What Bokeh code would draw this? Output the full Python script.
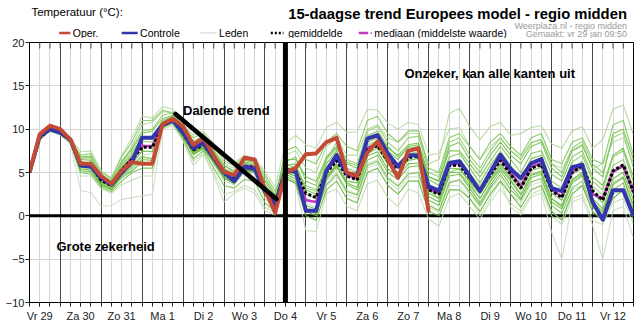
from bokeh.plotting import figure
from bokeh.layouts import column
from bokeh.models import (Range1d, FixedTicker, Grid, Span, Label, Arrow,
                          ColumnDataSource)
from bokeh.core.properties import value
from bokeh.embed import file_html
from bokeh.resources import INLINE

# ---------------- data ----------------
day_labels = ["Vr 29", "Za 30", "Zo 31", "Ma 1", "Di 2", "Wo 3", "Do 4", "Vr 5",
              "Za 6", "Zo 7", "Ma 8", "Di 9", "Wo 10", "Do 11", "Vr 12"]
# hours since vr 29 jan 00:00, 6-hourly steps
hours = list(range(6, 361, 6))

oper = [5.0, 9.4, 10.4, 10.0, 8.8, 6.0, 6.0, 4.6, 3.7, 5.2,
        6.2, 6.0, 6.0, 10.6, 11.2, 10.3, 8.2, 9.0, 6.9, 5.1,
        4.7, 6.7, 6.5, 3.0, 0.35, 5.0, 5.5, 7.1, 7.2, 8.5,
        9.0, 5.0, 4.6, 7.3, 8.6, 6.5, 4.4, 7.5, 7.8, 0.4]

controle = [5.0, 9.2, 10.0, 9.6, 8.8, 5.8, 5.7, 4.4, 3.6, 5.0,
            6.2, 9.0, 9.0, 10.5, 11.0, 9.6, 7.8, 8.4, 6.7, 5.0,
            4.0, 5.6, 5.4, 2.8, 1.2, 5.1, 5.2, 0.6, 0.6, 5.2,
            7.0, 4.9, 4.7, 8.9, 9.3, 7.2, 5.7, 7.0, 7.0, 3.4,
            2.9, 6.1, 6.3, 4.6, 2.85, 5.0, 7.05, 5.4, 4.35, 6.05,
            6.55, 3.2, 2.85, 5.6, 5.9, 1.6, -0.45, 2.95, 2.95, 0.0]

gemiddelde = [5.0, 9.0, 10.0, 9.6, 8.7, 5.9, 5.8, 4.1, 3.5, 5.3,
              6.5, 7.9, 7.9, 10.4, 11.0, 9.5, 7.6, 8.2, 6.7, 5.0,
              4.2, 5.7, 5.6, 3.0, 1.4, 5.4, 5.0, 2.6, 2.1, 5.0,
              6.35, 4.6, 4.15, 7.65, 8.1, 6.3, 5.5, 6.7, 6.9, 3.0,
              2.5, 5.8, 5.85, 4.4, 2.85, 4.7, 6.4, 4.8, 3.2, 5.5,
              5.9, 2.95, 2.1, 5.0, 5.8, 2.9, 1.8, 5.2, 5.9, 2.75]

mediaan = [5.0, 9.1, 10.1, 9.7, 8.8, 5.9, 5.8, 4.2, 3.6, 5.3,
           6.6, 8.1, 8.0, 10.5, 11.1, 9.6, 7.7, 8.3, 6.8, 5.0,
           4.1, 5.8, 5.6, 2.9, 1.3, 5.4, 5.1, 1.8, 1.6, 5.1,
           6.6, 4.7, 4.3, 7.8, 8.3, 6.5, 5.6, 6.9, 7.0, 3.1,
           2.6, 5.9, 6.0, 4.5, 2.9, 4.8, 6.6, 5.0, 3.4, 5.6,
           6.1, 3.0, 2.2, 5.1, 5.8, 2.5, 2.0, 5.1, 5.8, 2.7]

lid_a = [5.0, 9.5, 10.4, 10.0, 8.9, 7.4, 7.5, 5.2, 4.4, 7.0,
         9.0, 11.5, 11.3, 12.6, 12.3, 10.6, 9.3, 9.8, 8.3, 6.6,
         6.1, 7.0, 6.6, 5.2, 3.3, 8.3, 9.3, 8.2, 7.8, 10.2,
         10.8, 9.6, 9.7, 12.3, 12.2, 10.7, 10.0, 10.8, 10.5, 7.0,
         7.2, 10.0, 10.2, 8.0, 6.5, 8.0, 9.0, 7.5, 6.8, 8.5,
         8.8, 6.0, 5.5, 7.5, 8.0, 5.5, 6.0, 8.5, 9.0, 6.0]
lid_b = [5.0, 9.2, 10.2, 9.8, 8.8, 6.5, 6.6, 4.8, 4.0, 6.2,
         8.0, 10.5, 10.8, 12.0, 12.0, 10.2, 8.5, 9.0, 7.5, 6.0,
         5.5, 6.8, 6.4, 4.5, 2.5, 7.0, 7.5, 5.5, 5.0, 8.0,
         9.0, 7.0, 7.0, 10.0, 10.5, 9.0, 8.5, 9.5, 9.5, 6.0,
         6.5, 11.8, 12.4, 10.3, 8.8, 10.3, 10.8, 9.3, 9.5, 10.2,
         10.4, 8.3, 7.8, 9.8, 10.3, 7.8, 8.8, 12.3, 12.8, 9.3]
lid_c = [5.0, 8.8, 9.7, 9.3, 8.3, 2.9, 2.7, 1.1, 1.2, 1.9,
         2.1, 2.3, 2.5, 10.0, 10.4, 8.6, 5.8, 7.1, 4.6, 1.6,
         2.6, 3.2, 2.6, 0.6, 0.1, 4.2, 3.8, 1.0, 0.5, 3.5,
         4.5, 2.5, 2.0, 5.5, 6.0, 4.0, 3.0, 4.5, 4.5, 1.0,
         0.5, 4.0, 4.0, 2.5, 1.0, 3.0, 4.5, 2.5, 1.5, 3.5,
         4.0, 0.5, -0.5, 3.0, 3.5, 0.5, -0.5, 2.5, 3.0, 0.0]
lid_d = [5.0, 8.9, 9.8, 9.4, 8.4, 4.6, 4.6, 3.1, 2.6, 3.6,
         4.1, 4.6, 4.6, 10.1, 10.6, 8.8, 6.3, 7.2, 5.0, 2.5,
         2.8, 3.5, 3.0, 1.0, 0.3, 4.5, 3.6, -1.7, -1.8, 2.6,
         3.1, 1.1, 0.6, 3.7, 4.1, 2.1, 1.1, 3.1, 2.6, -0.4,
         -1.2, 2.1, 2.6, 1.1, -0.4, 1.6, 3.1, 1.5, 0.5, 2.5,
         3.0, 0.0, -1.0, 2.0, 2.5, -0.5, -1.0, 1.5, 2.0, -1.0]
lid_e = [5.0, 9.0, 10.0, 9.5, 8.6, 5.5, 5.4, 3.8, 3.2, 4.8,
         5.8, 7.0, 7.2, 10.2, 10.8, 9.2, 7.0, 7.8, 6.0, 4.0,
         3.6, 5.0, 4.8, 2.0, 0.8, 5.0, 4.5, 1.5, 1.0, 4.0,
         5.0, 3.0, 2.5, 6.0, 6.5, 4.5, 3.5, 5.0, 5.0, 1.5,
         0.5, 3.5, 3.5, 2.0, 0.0, 2.0, 4.0, 1.0, 0.1, 2.2,
         2.6, -1.9, -5.0, 1.6, 2.1, -1.1, -5.0, 0.6, 1.1, -2.6]
lid_f = [5.0, 9.3, 10.3, 9.9, 8.9, 6.8, 6.9, 4.6, 4.0, 6.3,
         7.6, 9.5, 9.8, 11.2, 11.6, 10.0, 8.4, 8.9, 7.4, 5.8,
         5.0, 6.4, 6.2, 4.0, 2.2, 6.5, 6.5, 4.5, 4.0, 6.8,
         8.0, 6.0, 5.5, 9.0, 9.5, 7.8, 7.0, 8.2, 8.4, 4.5,
         4.0, 7.5, 7.5, 6.0, 4.5, 6.3, 8.0, 6.5, 5.0, 7.2,
         7.5, 4.8, 4.0, 6.8, 7.5, 4.5, 3.5, 7.0, 7.8, 4.5]
lid_g = [5.0, 8.9, 9.9, 9.5, 8.5, 5.2, 5.1, 3.5, 3.0, 4.4,
         5.2, 6.2, 6.0, 10.3, 10.9, 9.1, 7.2, 7.9, 6.2, 4.4,
         3.7, 5.2, 5.0, 2.4, 1.0, 4.8, 4.3, 0.5, 0.0, 4.2,
         5.6, 3.8, 3.3, 6.9, 7.4, 5.4, 4.6, 6.0, 6.1, 2.2,
         1.6, 5.0, 5.0, 3.5, 2.0, 3.9, 5.5, 4.0, 2.4, 4.7,
         5.0, 2.0, 1.2, 4.2, 5.0, 2.0, 0.8, 4.3, 5.0, 1.8]
lid_h = [5.0, 9.4, 10.3, 9.9, 8.8, 7.0, 7.2, 5.0, 4.3, 6.8,
         8.5, 11.0, 11.0, 12.2, 11.8, 10.4, 9.0, 9.5, 8.0, 6.3,
         5.8, 6.9, 6.5, 4.8, 2.8, 6.0, 5.5, 3.5, 3.0, 5.5,
         7.0, 5.0, 4.5, 8.0, 8.5, 6.5, 5.8, 7.2, 7.0, 3.0,
         2.0, 5.0, 5.5, 3.8, 2.0, 4.0, 5.8, 4.2, 2.5, 4.8,
         5.2, 2.0, 1.0, 4.0, 4.8, 1.5, 0.2, 3.8, 4.5, 0.8]
lid_i = [5.0, 8.8, 9.8, 9.4, 8.5, 5.0, 4.8, 3.3, 2.8, 4.0,
         5.0, 5.5, 5.5, 10.2, 10.7, 8.9, 6.6, 7.5, 5.5, 3.5,
         3.2, 4.2, 4.0, 1.5, 0.5, 5.8, 6.0, 3.0, 2.5, 6.0,
         7.5, 5.5, 5.0, 8.5, 9.0, 7.5, 6.5, 8.0, 8.2, 4.5,
         4.0, 8.0, 8.5, 6.5, 5.0, 7.0, 8.5, 7.0, 6.0, 8.0,
         8.5, 5.5, 4.5, 7.5, 8.2, 5.5, 4.5, 9.5, 10.0, 6.5]
lid_j = [5.0, 9.1, 10.1, 9.7, 8.7, 6.2, 6.1, 4.3, 3.7, 5.6,
         7.0, 8.6, 8.5, 10.7, 11.3, 9.7, 7.9, 8.5, 7.0, 5.3,
         4.5, 6.0, 5.9, 3.4, 1.7, 5.6, 5.3, 3.2, 2.8, 5.6,
         6.8, 5.0, 4.6, 8.2, 8.6, 6.8, 6.0, 7.2, 7.4, 3.5,
         3.0, 6.3, 6.4, 4.9, 3.4, 5.2, 6.9, 5.3, 3.8, 6.0,
         6.4, 3.5, 2.7, 5.5, 6.3, 3.4, 2.4, 5.8, 6.5, 3.3]
lid_k = [5.0, 9.0, 10.0, 9.6, 8.6, 5.7, 5.6, 3.9, 3.3, 5.0,
         6.0, 7.5, 7.4, 10.5, 11.1, 9.4, 7.4, 8.0, 6.4, 4.6,
         4.0, 5.4, 5.3, 2.6, 1.1, 4.3, 3.8, 0.0, -0.5, 3.0,
         4.0, 2.0, 1.5, 5.0, 5.5, 3.5, 2.5, 4.0, 4.0, 0.5,
         0.0, 3.0, 3.0, 2.0, 0.5, 2.5, 4.0, 2.5, 1.0, 3.0,
         3.5, 0.5, -0.5, 2.5, 3.5, 0.5, -0.5, 2.0, 3.0, -0.5]
lid_l = [5.0, 9.2, 10.2, 9.8, 8.8, 6.5, 6.4, 4.5, 3.9, 5.8,
         7.3, 9.0, 9.0, 11.0, 11.5, 9.9, 8.0, 8.6, 7.2, 5.5,
         4.7, 6.2, 6.0, 3.6, 1.9, 7.5, 8.0, 6.5, 6.0, 8.5,
         9.5, 8.0, 7.5, 11.0, 11.5, 9.5, 8.5, 9.8, 9.8, 5.5,
         5.0, 9.0, 9.5, 8.0, 6.5, 8.5, 9.5, 8.0, 7.0, 9.0,
         9.5, 6.5, 6.0, 8.5, 9.0, 6.5, 6.0, 10.5, 11.0, 7.0]
lid_m = [5.0, 9.0, 9.9, 9.5, 8.6, 6.0, 6.2, 4.0, 3.4, 5.5,
         6.8, 8.0, 8.2, 10.6, 11.2, 9.3, 7.5, 8.3, 6.5, 4.8,
         4.3, 5.5, 5.8, 3.2, 1.5, 5.2, 4.8, 2.0, 1.5, 4.5,
         6.0, 4.0, 3.8, 7.2, 7.8, 6.0, 5.0, 6.4, 6.6, 2.6,
         2.0, 5.5, 5.4, 4.0, 2.5, 4.3, 6.0, 4.5, 3.0, 5.2,
         5.6, 2.6, 1.8, 4.8, 5.5, 2.6, 1.5, 5.0, 5.6, 2.4]
lid_n = [5.0, 9.3, 10.2, 9.8, 8.7, 6.3, 6.0, 4.4, 3.8, 5.4,
         6.9, 8.8, 9.2, 10.8, 11.4, 9.8, 8.1, 8.7, 7.1, 5.4,
         4.8, 6.1, 5.7, 3.5, 1.6, 6.2, 6.8, 4.0, 3.5, 6.5,
         7.8, 6.2, 5.8, 9.2, 9.8, 8.0, 6.8, 7.8, 8.0, 4.2,
         3.5, 6.8, 7.2, 5.5, 3.8, 5.8, 7.4, 5.8, 4.2, 6.6,
         7.0, 4.0, 3.2, 6.2, 7.0, 4.0, 3.0, 6.8, 7.5, 3.9]
lid_o = [5.0, 8.9, 9.9, 9.5, 8.6, 5.6, 5.5, 3.7, 3.1, 4.7,
         5.8, 6.8, 6.6, 10.3, 10.9, 9.2, 7.1, 7.7, 6.1, 4.3,
         3.8, 5.3, 5.2, 2.5, 1.0, 5.0, 4.6, 1.2, 0.8, 4.4,
         5.8, 3.6, 3.0, 6.4, 7.0, 5.0, 4.2, 5.6, 5.8, 1.8,
         1.2, 4.6, 4.8, 3.2, 1.5, 3.5, 5.2, 3.5, 2.0, 4.4,
         4.8, 1.6, 0.8, 3.8, 4.6, 1.6, 0.5, 3.6, 4.4, 1.2]
lid_p = [5.0, 9.1, 10.1, 9.7, 8.8, 6.6, 6.8, 4.7, 4.1, 6.0,
         7.8, 9.8, 10.0, 11.6, 11.9, 10.1, 8.6, 9.2, 7.6, 5.8,
         5.2, 6.5, 6.3, 4.2, 2.4, 5.2, 5.8, 2.5, 2.0, 6.5,
         8.5, 6.5, 6.0, 9.8, 10.3, 8.5, 7.5, 9.0, 9.2, 5.0,
         4.5, 8.5, 9.0, 7.0, 5.5, 7.5, 9.0, 7.5, 6.5, 8.4,
         8.8, 6.0, 5.0, 7.8, 8.6, 6.0, 5.0, 9.0, 9.6, 5.5]
lid_q = [5.0, 8.9, 9.9, 9.5, 8.5, 5.4, 5.3, 3.6, 3.1, 4.6,
         5.5, 6.5, 6.4, 10.4, 11.0, 9.3, 7.3, 8.0, 6.3, 4.5,
         3.9, 5.3, 5.1, 2.5, 0.9, 4.6, 4.0, 0.8, 0.2, 3.6,
         4.8, 2.8, 2.4, 5.8, 6.3, 4.3, 3.4, 4.8, 5.0, 1.2,
         0.6, 3.8, 4.2, 2.8, 1.2, 3.2, 4.8, 3.0, 1.8, 3.9,
         4.3, 1.2, 0.3, 3.2, 4.0, 1.0, 0.0, 3.0, 3.8, 0.4]

leden = [lid_a, lid_b, lid_c, lid_d, lid_e, lid_f, lid_g, lid_h, lid_i,
         lid_j, lid_k, lid_l, lid_m, lid_n, lid_o, lid_p, lid_q]

# ---------------- layout helpers ----------------
W, H = 642, 328
HDR = 38                                 # header strip height
FL, FR, FT, FB = 29, 633, 42, 302       # frame edges in page pixels
X0, X1, Y0, Y1 = 6, 360, -10, 20


def sx(px):
    return X0 + (px - FL) * (X1 - X0) / (FR - FL)


def sy(py):
    return Y1 - (py - FT) * (Y1 - Y0) / (FB - FT)


FONT = "Liberation Sans"

# ---------------- header strip ----------------
hdr = figure(width=W, height=HDR, x_range=Range1d(0, W), y_range=Range1d(HDR, 0),
             output_backend="svg", toolbar_location=None, min_border=0,
             x_axis_type=None, y_axis_type=None, title_location=None)
hdr.outline_line_color = None
hdr.background_fill_color = "white"
hdr.border_fill_color = "white"


def htext(px, py, text, size, bold=False, color="black", align="left"):
    # py is the vertical centre of the text in header pixels
    hdr.text(x=[px], y=[py], text=[text], text_font=value(FONT),
             text_font_size=value(size), text_color=color,
             text_font_style="bold" if bold else "normal",
             text_align=align, text_baseline="middle")


RX = 635
htext(2, 11.0, "Temperatuur (°C):", "11.5px")
htext(RX, 13.3, "15-daagse trend Europees model - regio midden", "14.8px",
      bold=True, align="right")
htext(RX, 25.0, "Weerplaza.nl - regio midden", "9px", color="#9a9a9a",
      align="right")
htext(RX, 33.4, "Gemaakt: vr 29 jan 09:50", "9px", color="#9a9a9a",
      align="right")

LY = 32.4
LT = 32.6
leg = [(31.5, 43.5, "#c34b36", 2.5, "solid"),
       (98, 115, "#3434ad", 2.5, "solid"),
       (181.5, 198.5, "#c8dcc0", 1, "solid"),
       (256.5, 270, "black", 2.5, "2 2"),
       (350, 360, "#c23bc8", 2.5, "solid"),
       (362.5, 364, "#c23bc8", 1.5, "solid")]
for x0, x1, c, w, d in leg:
    hdr.segment(x0=[x0], y0=[LY], x1=[x1], y1=[LY], line_color=c, line_width=w,
                line_dash=d)
htext(46, LT, "Oper.", "10.5px")
htext(117.5, LT, "Controle", "10.5px")
htext(201.5, LT, "Leden", "10.5px")
htext(275, LT, "gemiddelde", "10.5px")
htext(366.5, LT, "mediaan (middelste waarde)", "10.5px")

# ---------------- main chart ----------------
p = figure(width=W, height=H - HDR, x_range=Range1d(X0, X1),
           y_range=Range1d(Y0, Y1),
           output_backend="svg", toolbar_location=None, title_location=None,
           min_border_left=FL, min_border_right=W - FR,
           min_border_top=FT - HDR, min_border_bottom=H - FB)
p.background_fill_color = "white"
p.border_fill_color = "white"
p.outline_line_color = "black"
p.outline_line_width = 1

six_hourly = list(range(6, 361, 6))
day_bounds = list(range(24, 360, 24))
noons = [12 + 24 * k for k in range(len(day_labels))]

# x axis
p.xaxis.ticker = FixedTicker(ticks=noons, minor_ticks=six_hourly)
p.xaxis.major_label_overrides = {t: lab for t, lab in zip(noons, day_labels)}
p.xaxis.major_tick_out = 4
p.xaxis.major_tick_in = 0
p.xaxis.minor_tick_out = 4
p.xaxis.minor_tick_in = 0
p.xaxis.major_tick_line_color = "#222222"
p.xaxis.minor_tick_line_color = "#222222"
p.xaxis.axis_line_color = "black"
p.xaxis.major_label_standoff = 3
p.xaxis.major_label_text_font = FONT
p.xaxis.major_label_text_font_size = "11px"
p.xaxis.major_label_text_color = "#222222"

# y axis
p.yaxis.ticker = FixedTicker(ticks=[-10, -5, 0, 5, 10, 15, 20], minor_ticks=[])
p.yaxis.major_tick_out = 4
p.yaxis.major_tick_in = 0
p.yaxis.major_tick_line_color = "#222222"
p.yaxis.axis_line_color = "black"
p.yaxis.major_label_standoff = 1
p.yaxis.major_label_text_font = FONT
p.yaxis.major_label_text_font_size = "11px"
p.yaxis.major_label_text_color = "#222222"

# grids
p.xgrid.ticker = FixedTicker(ticks=six_hourly)
p.xgrid.grid_line_color = "#d6d6d6"
p.ygrid.ticker = FixedTicker(ticks=[-5, 5, 10, 15])
p.ygrid.grid_line_color = "#d6d6d6"
day_grid = Grid(dimension=0, ticker=FixedTicker(ticks=day_bounds),
                grid_line_color="#4a4a4a", grid_line_width=1)
p.add_layout(day_grid)

p.add_layout(Span(location=0, dimension="width", line_color="black",
                  line_width=3, level="underlay"))

# inward tick marks along the top border
p.segment(x0=six_hourly, y0=[Y1] * len(six_hourly), x1=six_hourly,
          y1=[sy(FT + 6)] * len(six_hourly), line_color="#444444", line_width=1)

# ensemble members
member_colors = ["#b3d69c", "#a8d18c", "#c6d9bc", "#b7d7a4", "#bfdbb0",
                 "#6cbf40", "#5cb531", "#80c858", "#66bb3a", "#8ccd66",
                 "#58b02c", "#76c34c", "#62b836", "#6fc144", "#5fb534",
                 "#86ca5f", "#68ba3c"]
member_alpha = [0.8] * 5 + [0.85] * 12
src = ColumnDataSource(dict(xs=[hours] * len(leden), ys=leden,
                            c=member_colors, a=member_alpha))
p.multi_line("xs", "ys", source=src, line_color="c", line_alpha="a",
             line_width=1.1)

p.line(hours, mediaan, line_color="#c23bc8", line_width=2.5, line_join="round")
p.line(hours, gemiddelde, line_color="black", line_width=3, line_dash="3 2")
p.line(hours, controle, line_color="#3434ad", line_width=4, line_join="round")
p.line(hours[:len(oper)], oper, line_color="#c34b36", line_width=4,
       line_join="round")

# thick vertical line at Do 4 12:00
p.add_layout(Span(location=156, dimension="height", line_color="black",
                  line_width=5))

# trend line
p.add_layout(Arrow(end=None, x_start=sx(175), y_start=sy(113.5),
                   x_end=sx(276), y_end=sy(198.5),
                   line_color="black", line_width=4.5, line_cap="round"))


def label(px, py, text, size, bold=False, color="black", align="left"):
    # py is the vertical centre of the text in page pixels
    p.add_layout(Label(x=sx(px), y=sy(py), text=text, text_font=FONT,
                       text_font_size=size, text_color=color,
                       text_font_style="bold" if bold else "normal",
                       text_align=align, text_baseline="middle"))


label(182.5, 109.5, "Dalende trend", "13px", bold=True)
label(404, 72.5, "Onzeker, kan alle kanten uit", "13px", bold=True)
label(56, 245.5, "Grote zekerheid", "13px", bold=True)

layout = column(hdr, p, spacing=0)
open("out.html", "w").write(file_html(layout, INLINE))
